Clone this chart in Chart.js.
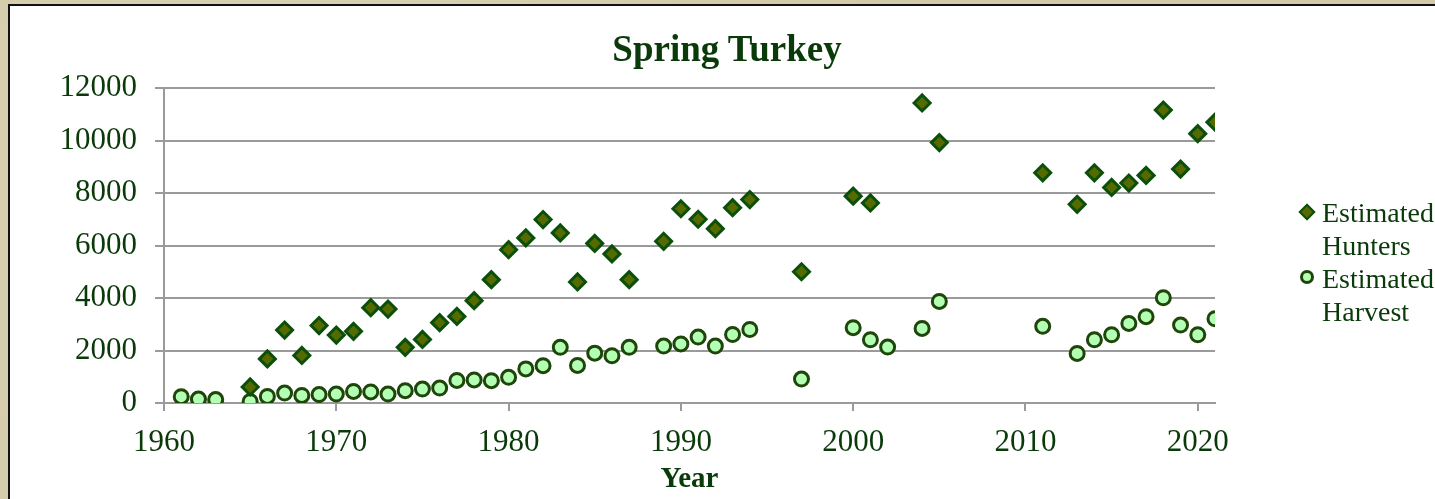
<!DOCTYPE html>
<html>
<head>
<meta charset="utf-8">
<script src="https://cdn.jsdelivr.net/npm/chart.js@4/dist/chart.umd.min.js"></script>
<style>
  html, body { margin: 0; padding: 0; }
  body {
    width: 1435px; height: 499px; overflow: hidden; position: relative;
    background: #d3c9a6;
    background-image: radial-gradient(circle at 20% 30%, rgba(255,255,255,0.15), rgba(0,0,0,0) 60%);
  }
  #panel {
    position: absolute; left: 8px; top: 4px;
    width: 1500px; height: 520px;
    background: #fff; border: 2px solid #111;
  }
  #wrap { position: absolute; left: 0; top: 0; width: 1425px; height: 493px; }
  #title {
    position: absolute; left: 527px; width: 400px; top: 27px; text-align: center;
    font-family: "Liberation Serif", "Times New Roman", serif;
    font-size: 37px; font-weight: bold; line-height: 44px; color: #0a3a0a;
  }
  .legend {
    position: absolute; left: 1322px; width: 130px;
    font-family: "Liberation Serif", "Times New Roman", serif;
    font-size: 28px; line-height: 33px; color: #0a3a0a;
  }
  .mk { position: absolute; box-sizing: border-box; }
  .diamond {
    width: 12px; height: 12px; background: #556b00; border: 2px solid #0b4f0b;
    transform: rotate(45deg);
  }
  .circle {
    width: 14px; height: 14px; background: #b3ffb3; border: 3px solid #1e450a;
    border-radius: 50%;
  }
</style>
</head>
<body>
<div id="panel">
  <div id="wrap"><canvas id="chart" width="1425" height="493"></canvas></div>
</div>
<div id="title">Spring Turkey</div>
<div class="mk diamond" style="left:1301px; top:206px;"></div>
<div class="legend" style="top:196px;">Estimated Hunters</div>
<div class="mk circle" style="left:1300px; top:270px;"></div>
<div class="legend" style="top:262px;">Estimated Harvest</div>

<script>
const hunterYears = [1965, 1966, 1967, 1968, 1969, 1970, 1971, 1972, 1973, 1974, 1975, 1976,
  1977, 1978, 1979, 1980, 1981, 1982, 1983, 1984, 1985, 1986, 1987, 1989, 1990, 1991, 1992,
  1993, 1994, 1997, 2000, 2001, 2004, 2005, 2011, 2013, 2014, 2015, 2016, 2017, 2018, 2019,
  2020, 2021];
const hunters = [610, 1680, 2780, 1810, 2950, 2590, 2730, 3630, 3580, 2120, 2420, 3060,
  3300, 3900, 4700, 5840, 6290, 6990, 6480, 4610, 6080, 5680, 4700, 6160, 7400, 7000, 6640,
  7440, 7750, 5000, 7880, 7620, 11430, 9920, 8770, 7570, 8770, 8210, 8380, 8670, 11160, 8910,
  10260, 10700];

const harvestYears = [1961, 1962, 1963, 1965, 1966, 1967, 1968, 1969, 1970, 1971, 1972, 1973,
  1974, 1975, 1976, 1977, 1978, 1979, 1980, 1981, 1982, 1983, 1984, 1985, 1986, 1987, 1989,
  1990, 1991, 1992, 1993, 1994, 1997, 2000, 2001, 2002, 2004, 2005, 2011, 2013, 2014, 2015,
  2016, 2017, 2018, 2019, 2020, 2021];
const harvest = [240, 150, 130, 60, 250, 380, 290, 320, 340, 440, 420, 340,
  470, 530, 570, 860, 880, 850, 980, 1300, 1420, 2120, 1430, 1900, 1800, 2120, 2170,
  2250, 2510, 2170, 2610, 2800, 910, 2870, 2410, 2130, 2840, 3870, 2920, 1890, 2410, 2600,
  3030, 3290, 4010, 2970, 2600, 3210];

const xTicks = [1960, 1970, 1980, 1990, 2000, 2010, 2020];
const yTicks = [0, 2000, 4000, 6000, 8000, 10000, 12000];

const textColor = '#0a3a0a';
const serif = '"Liberation Serif", "Times New Roman", serif';
const gridColor = '#9a9a9a';

function pairs(xs, ys) {
  return xs.map((x, i) => ({ x: x, y: ys[i] }));
}

new Chart(document.getElementById('chart'), {
  type: 'scatter',
  data: {
    datasets: [{
      label: 'Estimated Hunters',
      data: pairs(hunterYears, hunters),
      pointStyle: 'rectRot',
      pointRadius: 8,
      pointBackgroundColor: '#556b00',
      pointBorderColor: '#0b4f0b',
      pointBorderWidth: 3
    }, {
      label: 'Estimated Harvest',
      data: pairs(harvestYears, harvest),
      pointStyle: 'circle',
      pointRadius: 7,
      pointBackgroundColor: '#b3ffb3',
      pointBorderColor: '#1e450a',
      pointBorderWidth: 3
    }]
  },
  options: {
    responsive: false,
    animation: false,
    layout: { padding: { left: 0, right: 220, top: 82, bottom: 0 } },
    plugins: {
      legend: { display: false },
      tooltip: { enabled: false },
      title: { display: false }
    },
    scales: {
      x: {
        type: 'linear',
        min: xTicks[0],
        max: 2021,
        afterFit: s => { s.height = 96; },
        afterBuildTicks: s => { s.ticks = xTicks.map(v => ({ value: v })); },
        ticks: {
          color: textColor, padding: 13, includeBounds: false,
          font: { family: serif, size: 31 },
          callback: v => String(v)
        },
        grid: { drawOnChartArea: false, color: gridColor, lineWidth: 2, tickLength: 8 },
        border: { color: gridColor, width: 2 },
        title: {
          display: true, text: 'Year', color: textColor,
          font: { family: serif, size: 29, weight: 'bold' },
          padding: { top: 0, bottom: 2 }
        }
      },
      y: {
        min: yTicks[0],
        max: yTicks[yTicks.length - 1],
        afterFit: s => { s.width = 154; },
        afterBuildTicks: s => { s.ticks = yTicks.map(v => ({ value: v })); },
        ticks: {
          color: textColor, padding: 18,
          font: { family: serif, size: 31 },
          callback: v => String(v)
        },
        grid: { color: gridColor, lineWidth: 2, tickLength: 9 },
        border: { color: gridColor, width: 2 }
      }
    }
  }
});
</script>
</body>
</html>
